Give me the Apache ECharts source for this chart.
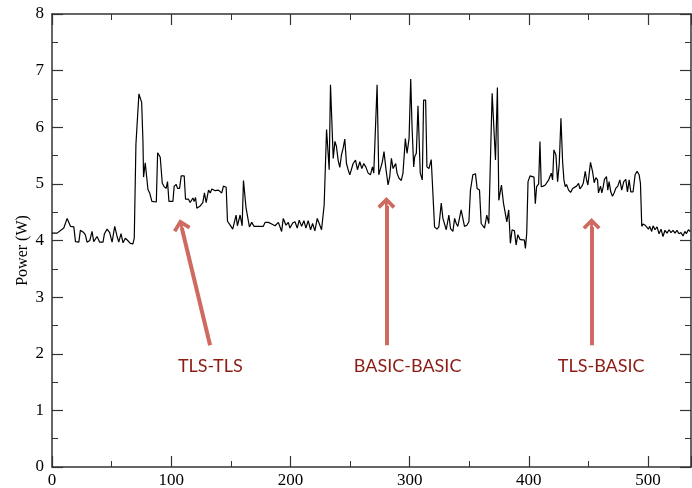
<!DOCTYPE html>
<html lang="en">
<head>
    <meta charset="UTF-8">
    <title>Power trace</title>
    <style>
        * {
            padding: 0;
            margin: 0;
        }

        .EC {
            width: 692px;
            height: 488px;
            background: #fff;
        }
    </style>
    <script src="https://cdn.jsdelivr.net/npm/echarts@6.0.0/dist/echarts.min.js"></script>
</head>
<body>
<div class="EC"></div>
<script>
    // time (s) and power (W)
    const timeSec = [
        0, 4.3, 5.7, 9.9, 12.7, 15.5, 18.3, 19.7, 22.5, 23.8, 26.6, 28, 29.4, 31.7, 33.6, 35, 37.8, 40, 42.8, 44,
        46.2, 48.4, 50.4, 52.6, 54.5, 56, 57.9, 59.6, 61.5, 63.5, 65.7, 67.9, 69, 70.4, 71.8, 72.9, 74.1, 75.2, 76.3, 76.8,
        78.2, 79.6, 80.5, 81.9, 83.8, 87.5, 88.6, 90.8, 92.5, 94.1, 95.8, 96.9, 98.1, 101.4, 102.5, 104.2, 105.3, 107, 108.4, 110.9,
        112, 114.5, 115.9, 118.2, 119.3, 120.4, 121.5, 124.3, 126.5, 127.9, 129.3, 131.3, 132.7, 134.1, 136.9, 139.6, 142.4, 143.8, 146.1, 147.2,
        148.9, 150.2, 151.6, 152.8, 154.4, 155.5, 157.8, 159.5, 160.6, 161.7, 162.8, 164.2, 165.6, 167.5, 169.5, 171.7, 174, 175.1, 177.3, 178.7,
        181.5, 184.3, 187.1, 189.9, 192.6, 194, 196.3, 198.2, 199.6, 201.9, 203.8, 205.7, 207.4, 209.4, 211.3, 213, 214.9, 216.9, 218.6, 220.5,
        222.5, 224.1, 226.1, 227.5, 228.3, 229.4, 230.3, 231.7, 232.5, 233.6, 234.7, 235.9, 237.3, 238.6, 240, 241.4, 242.8, 244.2, 245.6, 247,
        248.4, 249.8, 251.2, 252.6, 254.6, 256.2, 258.2, 259.9, 261.5, 263.2, 265.2, 267.1, 268.8, 269.9, 271.3, 272.7, 274.1, 275.5, 277.1, 278.5,
        279.9, 281.9, 283.3, 284.7, 286.1, 288.3, 289.4, 291.1, 293, 294.4, 296.4, 297.8, 299.5, 300.9, 302, 303.4, 304.2, 305.6, 307, 307.8,
        308.9, 310.6, 311.7, 313.4, 314.5, 316.2, 318.1, 319.5, 320.9, 322.9, 324.5, 326.5, 327.9, 329.3, 330.7, 332.9, 334.3, 336.3, 337.7, 339.1,
        340.4, 341.8, 343.2, 344.6, 346, 348, 349.7, 351, 353, 355.2, 356.6, 358.6, 360, 361.4, 362.8, 364.7, 366.4, 367.5, 369.2, 370.6,
        372, 373.6, 374.8, 375.9, 377, 378.7, 380.1, 381.5, 383.1, 384.5, 385.9, 387.9, 389.3, 390.7, 392.6, 394.3, 396.2, 397.1, 398.2, 399.3,
        401, 402.6, 404.3, 405.4, 406.5, 408.2, 409.3, 410.4, 412.1, 413.8, 414.9, 416.6, 417.7, 418.8, 419.9, 421, 422.7, 424.1, 425.5, 426.9,
        428.3, 429.4, 430.5, 431.6, 433.3, 435, 436.7, 438.3, 440, 441.7, 442.8, 444.5, 445.6, 447.3, 448.4, 449.5, 450.6, 451.7, 453.4, 454.8,
        456.2, 457.6, 458.4, 460.1, 461.2, 462.3, 463.4, 465.1, 466.2, 467.3, 468.7, 470.1, 471.5, 472.9, 474.6, 476.3, 477.9, 479.6, 481.3, 482.7,
        484.1, 485.5, 487.4, 489.1, 490.8, 492.5, 493.6, 494.7, 495.8, 497.5, 498.6, 500.3, 501.4, 503, 504.2, 505.8, 507.5, 509.2, 510.9, 512.5,
        514.2, 515.9, 517.6, 519.2, 520.9, 522.6, 524.2, 525.9, 527.6, 529.3, 530.9, 532.1, 533.8, 535.4
    ];
    const powerW = [
        4.13, 4.13, 4.12, 4.22, 4.39, 4.25, 4.24, 3.98, 3.97, 4.18, 4.14, 4.1, 3.97, 4, 4.16, 3.98, 4.07, 3.97, 3.97, 4.12,
        4.2, 4.14, 3.97, 4.25, 4.08, 3.97, 4.12, 3.96, 4.04, 4, 3.95, 3.94, 4.04, 5.7, 5.73, 6.59, 6.57, 6.44, 5.75, 5.12,
        5.37, 5.39, 4.9, 4.84, 4.69, 4.68, 5.55, 5.47, 5.01, 4.95, 4.92, 5.04, 4.69, 4.69, 4.96, 4.99, 4.92, 4.92, 5.14, 5.14,
        4.73, 4.73, 4.67, 4.75, 4.69, 4.76, 4.57, 4.61, 4.67, 4.84, 4.67, 4.89, 4.84, 4.91, 4.88, 4.89, 4.84, 4.96, 4.94, 4.34,
        4.29, 4.3, 4.2, 4.22, 4.45, 4.26, 4.45, 4.26, 5.06, 5.06, 4.57, 4.57, 4.24, 4.32, 4.25, 4.25, 4.25, 4.24, 4.25, 4.32,
        4.32, 4.29, 4.26, 4.32, 4.16, 4.39, 4.27, 4.32, 4.22, 4.31, 4.33, 4.22, 4.36, 4.25, 4.35, 4.22, 4.35, 4.19, 4.3, 4.17,
        4.39, 4.42, 4.19, 4.17, 4.63, 4.63, 5.96, 5.98, 5.25, 6.75, 6.75, 5.45, 5.75, 5.66, 5.42, 5.29, 5.51, 5.63, 5.79, 5.36,
        5.25, 5.16, 5.19, 5.36, 5.42, 5.25, 5.39, 5.27, 5.36, 5.3, 5.19, 5.16, 5.3, 5.19, 5.22, 6.75, 5.16, 5.19, 5.39, 5.57,
        5.3, 4.98, 5.13, 5.45, 5.27, 5.36, 5.19, 5.1, 5.06, 5.19, 5.8, 5.54, 5.8, 6.85, 6.01, 5.3, 5.48, 5.54, 6.38, 6.36,
        5.19, 5.07, 6.48, 6.48, 5.3, 5.27, 5.43, 5.42, 4.24, 4.2, 4.24, 4.66, 4.39, 4.36, 4.19, 4.45, 4.21, 4.16, 4.39, 4.3,
        4.25, 4.22, 4.54, 4.54, 4.25, 4.27, 4.33, 4.89, 5.16, 5.18, 4.92, 4.89, 4.3, 4.29, 4.22, 4.45, 4.3, 4.32, 6.6, 6.6,
        5.42, 6.7, 4.71, 4.71, 4.98, 4.66, 4.66, 4.33, 4.54, 3.95, 4.19, 4.17, 3.92, 4.1, 4.02, 4.01, 4.01, 3.86, 4.13, 5.04,
        5.14, 5.16, 5.12, 4.65, 4.95, 5, 5.75, 4.95, 4.96, 4.98, 4.95, 5.07, 5.13, 5.19, 5.07, 5.6, 5.51, 5.04, 5.36, 6.16,
        5.39, 5.07, 4.95, 4.99, 4.89, 4.85, 4.92, 4.89, 4.96, 5.01, 4.91, 4.96, 5.01, 5.22, 5.07, 4.98, 4.96, 5.38, 5.22, 5.02,
        5.11, 5.07, 4.84, 4.96, 4.84, 4.94, 5.08, 5.13, 4.89, 5.04, 4.86, 4.78, 4.84, 4.92, 4.96, 5.07, 4.89, 5.04, 5.08, 4.86,
        5.07, 4.86, 4.86, 5.16, 5.22, 5.16, 5.01, 4.25, 4.29, 4.27, 4.25, 4.2, 4.25, 4.16, 4.26, 4.19, 4.24, 4.12, 4.2, 4.07,
        4.18, 4.13, 4.19, 4.14, 4.18, 4.13, 4.18, 4.12, 4.14, 4.08, 4.16, 4.12, 4.19, 4.16
    ];

    // annotation arrows: [tail, head] in data coords, and the labels under them
    const arrowLines = [
        [[132.6, 2.15], [108.9, 4.22]],
        [[280.5, 2.15], [280.5, 4.61]],
        [[452.6, 2.15], [452.6, 4.24]]
    ];
    const labelNames = ['TLS-TLS', 'BASIC-BASIC', 'TLS-BASIC'];
    const labelCoords = [[132.8, 1.78], [298.3, 1.78], [460.7, 1.78]];

    window.onload = () => {
        let EC = echarts.init(document.querySelector('.EC'), null, {renderer: 'canvas'})
        const serif = '"Liberation Serif", "DejaVu Serif", serif'
        const axisCol = '#333'
        const chevron = 'path://M10,0 L20,10 L17,13 L10,6 L3,13 L0,10 Z M8.5,3 L11.5,3 L11.5,20 L8.5,20 Z'

        // the frame: bottom/left carry labels, top/right just mirror ticks
        let baseAxis = (pos, isX) => ({
            type: 'value',
            position: pos,
            min: 0,
            max: isX ? 536 : 8,
            interval: isX ? 100 : 1,
            axisLine: {show: true, onZero: false, lineStyle: {color: axisCol, width: 1.5}},
            axisTick: {show: true, inside: true, length: 11, lineStyle: {color: axisCol, width: 1.2}},
            minorTick: {show: true, splitNumber: 2, length: 6, lineStyle: {color: axisCol, width: 1}},
            splitLine: {show: false},
            axisLabel: {show: false}
        })

        let xBottom = baseAxis('bottom', true)
        xBottom.axisLabel = {show: true, showMaxLabel: false, margin: 5, color: '#000', fontFamily: serif, fontSize: 17}
        let yLeft = baseAxis('left', false)
        yLeft.axisLabel = {show: true, margin: 8, color: '#000', fontFamily: serif, fontSize: 17}
        yLeft.name = 'Power (W)'
        yLeft.nameLocation = 'middle'
        yLeft.nameGap = 21
        yLeft.nameMoveOverlap = false
        yLeft.nameTextStyle = {color: '#000', fontFamily: serif, fontSize: 16, padding: [0, 0, 0, -20]}

        let option = {
            backgroundColor: '#fff',
            animation: false,
            grid: {left: 52, right: 1, top: 14, bottom: 21, containLabel: false, outerBoundsMode: 'none'},
            xAxis: [xBottom, baseAxis('top', true)],
            yAxis: [yLeft, baseAxis('right', false)],
            series: [{
                name: 'power',
                type: 'line',
                data: timeSec.map((t, i) => [t, powerW[i]]),
                showSymbol: false,
                symbol: 'none',
                lineStyle: {color: '#000', width: 1.2},
                z: 3,
                markLine: {
                    silent: true,
                    symbol: ['none', chevron],
                    symbolSize: [18, 18],
                    lineStyle: {color: '#cf6a60', width: 4, type: 'solid'},
                    label: {show: false},
                    data: arrowLines.map(a => [{coord: a[0]}, {coord: a[1]}])
                },
                markPoint: {
                    silent: true,
                    symbol: 'rect',
                    symbolSize: 1,
                    itemStyle: {color: 'rgba(0,0,0,0)'},
                    label: {
                        show: true,
                        position: 'inside',
                        color: '#8b1c15',
                        fontFamily: 'Lato, "Open Sans", sans-serif',
                        fontSize: 18
                    },
                    data: labelNames.map((n, i) => ({
                        coord: labelCoords[i],
                        label: {formatter: n}
                    }))
                }
            }]
        }
        EC.setOption(option)
    }
</script>
</body>
</html>
